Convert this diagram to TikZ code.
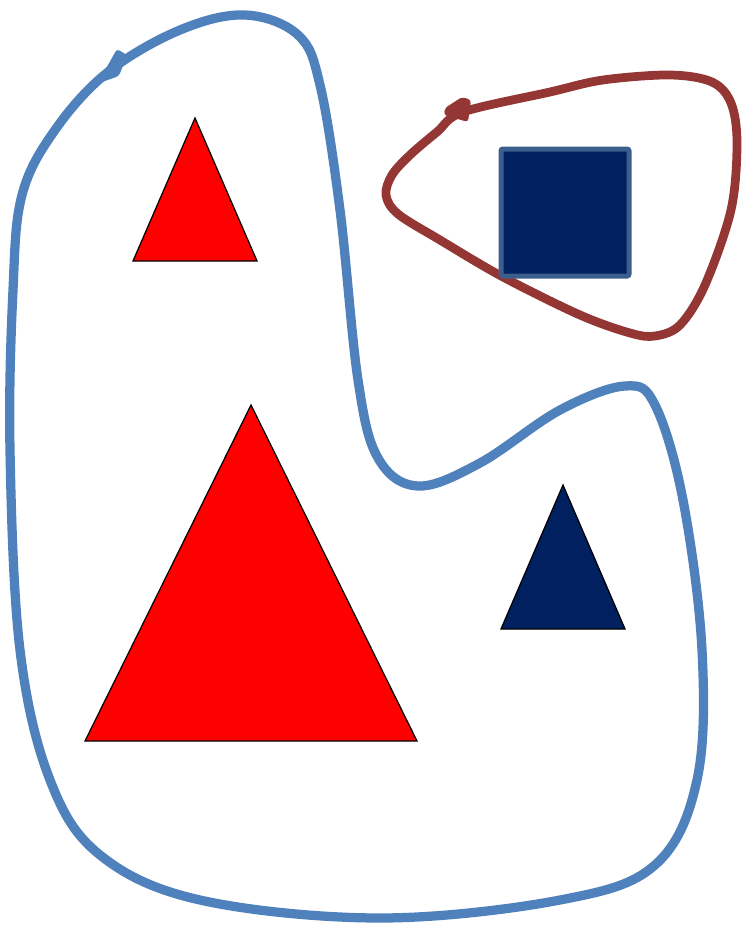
\documentclass[tikz,border=0pt]{standalone}
\definecolor{loopblue}{RGB}{79,129,189}
\definecolor{loopred}{RGB}{148,54,52}
\definecolor{navy}{RGB}{0,32,96}
\definecolor{navyedge}{RGB}{60,94,140}
\definecolor{brightred}{RGB}{255,0,0}
\usepackage{tikz}
\tikzset{
  bigloop/.style={draw=loopblue, line width=1.85mm, line join=round},
  smallloop/.style={draw=loopred, line width=1.75mm, line join=round},
  redtri/.style={fill=brightred, draw=black, line width=0.25mm},
  bluetri/.style={fill=navy, draw=black, line width=0.25mm},
  sqbox/.style={fill=navy, draw=navyedge, line width=1mm, rounded corners=0.4mm},
  barb/.style={rounded corners=0.6mm},
}
\begin{document}
\begin{tikzpicture}[x=0.2mm,y=-0.2mm]
  \useasboundingbox (0,0) rectangle (744,925);
  % blue boundary
  \draw[bigloop] plot[smooth cycle, tension=0.6] coordinates {
    (245,15) (180,30) (108,72) (55,130) (22,195) (13,290) (10,450) (20,650)
    (50,780) (100,855) (200,900) (380,918) (560,900) (655,865) (697,780)
    (702,650) (683,500) (655,405) (625,386) (560,410) (480,463) (418,486)
    (378,458) (358,380) (340,210) (320,85) (298,35)};
  \fill[loopblue,barb] (117,49) -- (127,55) -- (119,76) -- (91,86) -- (92,80) -- (104,72) -- cycle;
  % red boundary
  \draw[smallloop] plot[smooth cycle, tension=0.55] coordinates {
    (398,214) (386,195) (392,175) (410,155) (437,132) (463,112) (550,92)
    (603,80) (670,75) (712,82) (731,103) (737,143) (731,210) (705,285)
    (680,325) (655,336) (630,333) (580,315) (503,277) (440,240)};
  \fill[loopred,barb] (462,97) -- (471,100) -- (468,122) -- (444,115) -- (445,108) -- cycle;
  % shapes
  \draw[redtri] (195,118) -- (257,261) -- (133,261) -- cycle;
  \draw[redtri] (251,405) -- (417,741) -- (85,741) -- cycle;
  \draw[bluetri] (563,485) -- (625,629) -- (501,629) -- cycle;
  \draw[sqbox] (501,149) rectangle (629,276);
\end{tikzpicture}
\end{document}
